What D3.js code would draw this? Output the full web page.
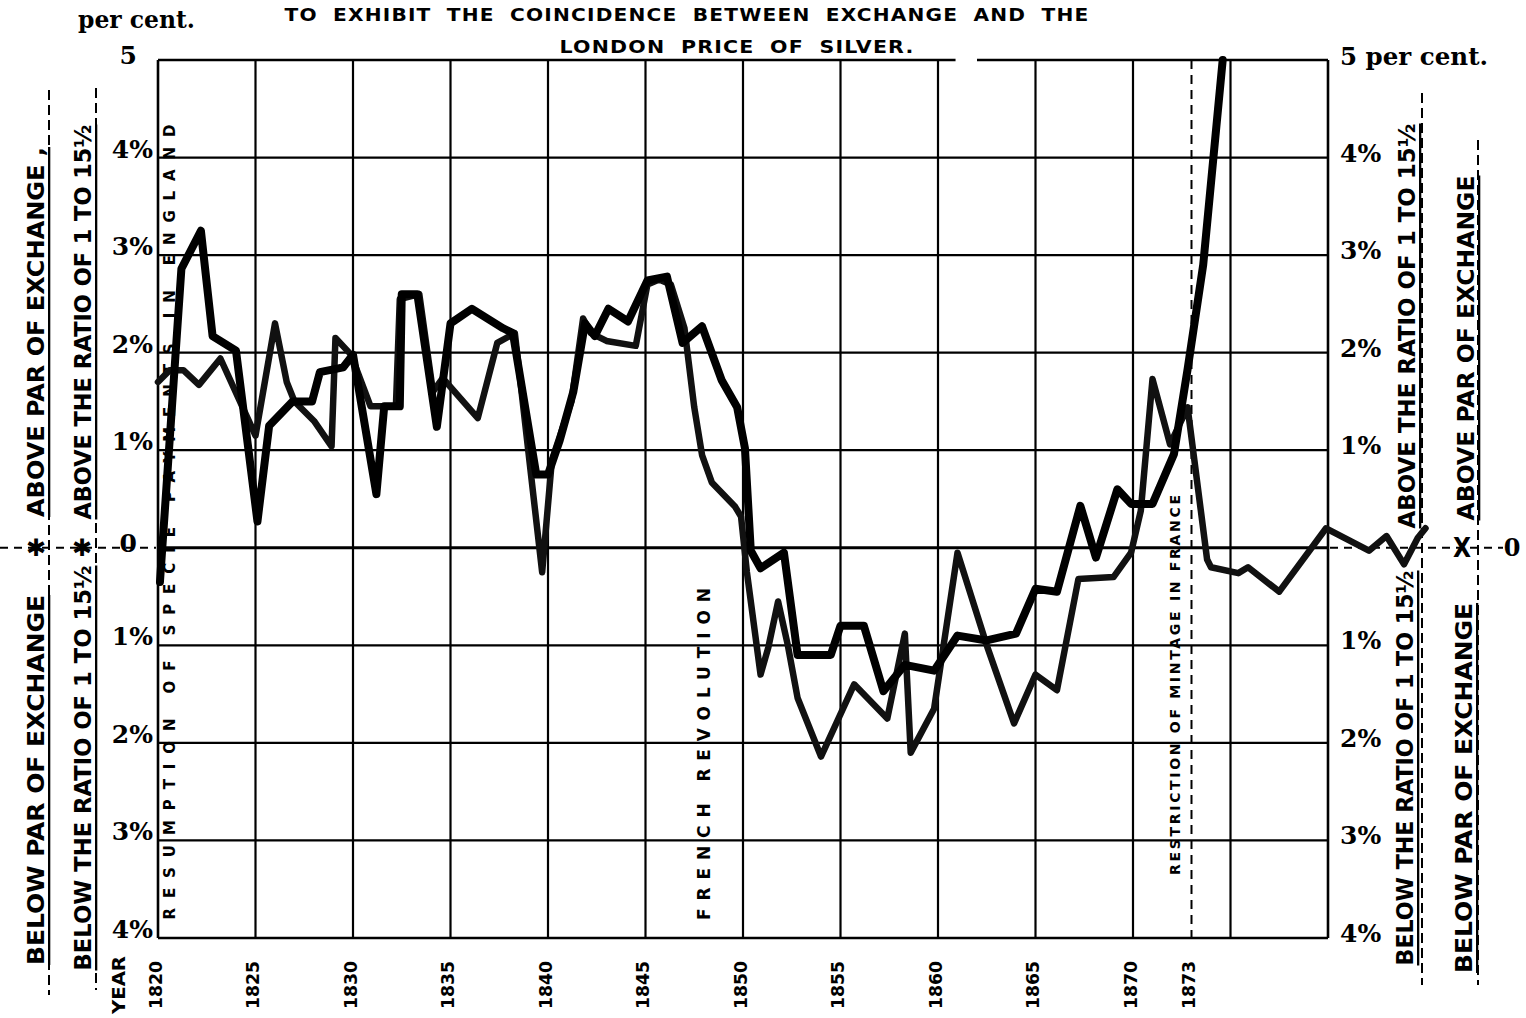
<!DOCTYPE html>
<html><head><meta charset="utf-8">
<script src="https://cdn.jsdelivr.net/npm/d3@7"></script>
<style>
html,body{margin:0;padding:0;background:#fff;}
svg{display:block;}
</style></head>
<body>
<svg id="chart" width="1526" height="1018"></svg>
<script>
// ---- data ----
const silverYears = [1820.1,1821.2,1822.2,1822.8,1824.0,1825.1,1825.7,1826.9,1827.9,1828.3,1829.5,1830.0,1831.2,1831.6,1832.4,1832.5,1833.3,1834.3,1835.0,1836.1,1837.7,1838.2,1839.4,1840.0,1840.6,1841.3,1841.9,1842.4,1843.1,1844.1,1845.1,1846.1,1846.9,1847.9,1848.9,1849.7,1850.1,1850.4,1850.9,1852.1,1852.8,1854.5,1855.0,1856.2,1857.2,1858.3,1859.8,1861.0,1862.5,1864.0,1865.0,1866.1,1867.3,1868.1,1869.2,1869.9,1871.0,1872.1,1872.8,1873.6,1874.6];
const silverValues = [-0.35,2.86,3.25,2.17,2.02,0.27,1.25,1.5,1.5,1.8,1.85,1.98,0.55,1.45,1.45,2.6,2.6,1.24,2.3,2.45,2.25,2.2,0.75,0.75,1.1,1.6,2.3,2.17,2.45,2.32,2.74,2.78,2.1,2.27,1.72,1.44,1.02,-0.03,-0.21,-0.05,-1.1,-1.1,-0.8,-0.8,-1.47,-1.2,-1.26,-0.9,-0.95,-0.88,-0.42,-0.45,0.43,-0.1,0.6,0.45,0.45,0.96,1.83,2.9,5.0];

const exchangeYears = [1820.0,1820.6,1821.3,1822.1,1823.2,1825.0,1826.0,1826.6,1827.0,1828.0,1828.9,1829.1,1829.9,1830.9,1832.2,1832.4,1833.4,1834.1,1834.6,1836.4,1837.4,1838.3,1839.7,1840.2,1841.2,1841.8,1842.2,1843.0,1844.5,1845.1,1845.7,1846.3,1847.0,1847.5,1847.9,1848.4,1849.6,1849.9,1850.2,1850.9,1851.3,1851.8,1852.3,1852.8,1854.0,1855.7,1857.4,1858.3,1858.6,1859.8,1861.0,1862.5,1863.9,1865.0,1866.1,1867.2,1869.0,1869.9,1870.4,1871.0,1871.9,1872.8,1873.8,1874.0,1875.4,1875.9,1877.5,1879.9,1882.1,1883.0,1883.9,1884.6,1885.0];
const exchangeValues = [1.7,1.82,1.82,1.67,1.94,1.15,2.3,1.7,1.5,1.3,1.04,2.15,1.98,1.45,1.45,2.55,2.6,1.6,1.74,1.33,2.1,2.2,-0.25,0.9,1.5,2.35,2.2,2.12,2.07,2.7,2.75,2.7,2.25,1.44,0.95,0.67,0.42,0.32,-0.25,-1.3,-1.02,-0.55,-1.0,-1.54,-2.14,-1.4,-1.75,-0.88,-2.1,-1.65,-0.05,-1.0,-1.8,-1.3,-1.46,-0.32,-0.3,-0.05,0.38,1.73,1.06,1.44,-0.12,-0.2,-0.26,-0.2,-0.45,0.2,-0.03,0.12,-0.17,0.1,0.2];

const gridYears = [1820,1825,1830,1835,1840,1845,1850,1855,1860,1865,1870,1875,1880];
const yearTickValues = [1820,1825,1830,1835,1840,1845,1850,1855,1860,1865,1870,1873];
const yearTickLabels = ["1820","1825","1830","1835","1840","1845","1850","1855","1860","1865","1870","1873"];
const pctValues = [5,4,3,2,1,0,-1,-2,-3,-4];
const leftTickLabels = ["5","4%","3%","2%","1%","0","1%","2%","3%","4%"];
const rightTickLabels = ["5 per cent.","4%","3%","2%","1%","","1%","2%","3%","4%"];
const eventYears = [1820.6, 1848.0, 1872.15];
const eventLabels = ["RESUMPTION OF SPECIE PAYMENTS IN ENGLAND","FRENCH REVOLUTION","RESTRICTION OF MINTAGE IN FRANCE"];
const markerYear = 1873;
const titleLines = ["TO EXHIBIT THE COINCIDENCE BETWEEN EXCHANGE AND THE","LONDON PRICE OF SILVER."];
const sideLabelsAbove = ["ABOVE PAR OF EXCHANGE ,","ABOVE THE RATIO OF 1 TO 15½"];
const sideLabelsBelow = ["BELOW PAR OF EXCHANGE","BELOW THE RATIO OF 1 TO 15½"];
const rightLabelsAbove = ["ABOVE THE RATIO OF 1 TO 15½","ABOVE PAR OF EXCHANGE"];
const rightLabelsBelow = ["BELOW THE RATIO OF 1 TO 15½","BELOW PAR OF EXCHANGE"];

// ---- drawing ----
const svg = d3.select("#chart");
const W = 1526, H = 1018;
svg.append("rect").attr("width", W).attr("height", H).attr("fill", "#fff");

const x = d3.scaleLinear().domain([1820, 1880]).range([158, 1328]);
const y = d3.scaleLinear().domain([-4, 5]).range([938, 60]);

const serif = "'DejaVu Serif', 'Liberation Serif', serif";
const sans = "'Liberation Sans Narrow', 'DejaVu Sans Condensed', 'Liberation Sans', sans-serif";
const wideSans = "'DejaVu Sans', 'Liberation Sans', sans-serif";

// title
svg.append("text").attr("x", 687).attr("y", 21).attr("text-anchor", "middle")
  .attr("font-family", wideSans).attr("font-weight", "bold").attr("font-size", 17)
  .attr("word-spacing", 6).attr("letter-spacing", 1)
  .attr("textLength", 805).attr("lengthAdjust", "spacingAndGlyphs").text(titleLines[0]);
svg.append("text").attr("x", 737).attr("y", 53).attr("text-anchor", "middle")
  .attr("font-family", wideSans).attr("font-weight", "bold").attr("font-size", 17)
  .attr("word-spacing", 6).attr("letter-spacing", 1)
  .attr("textLength", 355).attr("lengthAdjust", "spacingAndGlyphs").text(titleLines[1]);

svg.append("text").attr("x", 78).attr("y", 28).attr("font-family", serif).attr("font-weight", "bold")
  .attr("font-size", 25).attr("textLength", 117).attr("lengthAdjust", "spacingAndGlyphs").text("per cent.");

// event annotations (under the lines)
const evCfg = [{cy: 522, len: 795, fs: 15}, {cy: 754, len: 332, fs: 17}, {cy: 685, len: 380, fs: 14}];
eventLabels.forEach((t, i) => {
  const cx = x(eventYears[i]);
  svg.append("text").attr("transform", `translate(${cx},${evCfg[i].cy}) rotate(-90)`)
    .attr("text-anchor", "middle").attr("dominant-baseline", "central")
    .attr("font-family", wideSans).attr("font-weight", "bold").attr("font-size", evCfg[i].fs)
    .attr("textLength", evCfg[i].len).attr("lengthAdjust", "spacing").text(t);
});

// grid
const grid = svg.append("g").attr("stroke", "#000").attr("fill", "none");
gridYears.forEach(yr => {
  grid.append("line").attr("x1", x(yr)).attr("x2", x(yr)).attr("y1", y(5)).attr("y2", y(-4))
    .attr("stroke-width", (yr === 1820 || yr === 1880) ? 2.6 : 2.2);
});
pctValues.forEach(v => {
  if (v === 5) {
    grid.append("line").attr("x1", x(1820)).attr("x2", x(1860.9)).attr("y1", y(5)).attr("y2", y(5)).attr("stroke-width", 2.6);
    grid.append("line").attr("x1", x(1862.0)).attr("x2", x(1880)).attr("y1", y(5)).attr("y2", y(5)).attr("stroke-width", 2.6);
  } else {
    grid.append("line").attr("x1", x(1820)).attr("x2", x(1880)).attr("y1", y(v)).attr("y2", y(v))
      .attr("stroke-width", v === 0 ? 3 : (v === -4 ? 2.6 : 2.2));
  }
});
// 1873 dashed
grid.append("line").attr("x1", x(markerYear)).attr("x2", x(markerYear)).attr("y1", y(5)).attr("y2", y(-4))
  .attr("stroke-width", 2).attr("stroke-dasharray", "9,6");

// zero dashes outside
svg.append("line").attr("x1", 0).attr("x2", 156).attr("y1", y(0)).attr("y2", y(0))
  .attr("stroke", "#000").attr("stroke-width", 2).attr("stroke-dasharray", "8,6");
svg.append("line").attr("x1", 1330).attr("x2", 1503).attr("y1", y(0)).attr("y2", y(0))
  .attr("stroke", "#000").attr("stroke-width", 2).attr("stroke-dasharray", "8,6");

// side dashed rules
[[49, 90, 995], [96, 88, 990], [1422, 93, 985], [1478, 140, 985]].forEach(d => {
  svg.append("line").attr("x1", d[0]).attr("x2", d[0]).attr("y1", d[1]).attr("y2", d[2])
    .attr("stroke", "#000").attr("stroke-width", 2).attr("stroke-dasharray", "10,5");
});

// side labels
function sideText(t, cx, cy, len) {
  svg.append("text").attr("transform", `translate(${cx},${cy}) rotate(-90)`)
    .attr("text-anchor", "middle").attr("dominant-baseline", "central")
    .attr("font-family", sans).attr("font-weight", "bold").attr("font-size", 23)
    .attr("text-decoration", "underline")
    .attr("textLength", len).attr("lengthAdjust", "spacingAndGlyphs").text(t);
}
sideText(sideLabelsAbove[0], 36, 332, 370);
sideText(sideLabelsAbove[1], 83, 322, 395);
sideText(sideLabelsBelow[0], 36, 780, 370);
sideText(sideLabelsBelow[1], 83, 768, 405);
sideText(rightLabelsAbove[0], 1407, 326, 405);
sideText(rightLabelsAbove[1], 1466, 348, 345);
sideText(rightLabelsBelow[0], 1405, 768, 395);
sideText(rightLabelsBelow[1], 1464, 788, 370);

// markers on zero line
[[36, "✱"], [82, "✱"]].forEach(d => {
  svg.append("text").attr("x", d[0]).attr("y", y(0)).attr("text-anchor", "middle").attr("dominant-baseline", "central")
    .attr("font-family", "'DejaVu Sans', sans-serif").attr("font-weight", "bold").attr("font-size", 24).text(d[1]);
});
svg.append("text").attr("x", 1462).attr("y", y(0)).attr("text-anchor", "middle").attr("dominant-baseline", "central")
  .attr("font-family", sans).attr("font-weight", "bold").attr("font-size", 26).text("X");
svg.append("text").attr("x", 1512).attr("y", y(0) + 8).attr("text-anchor", "middle")
  .attr("font-family", serif).attr("font-weight", "bold").attr("font-size", 24).text("0");

// left tick labels
pctValues.forEach((v, i) => {
  const t = leftTickLabels[i];
  const plain = (t === "5" || t === "0");
  svg.append("text").attr("x", plain ? 137 : 153).attr("y", y(v) + (plain ? 4 : 0))
    .attr("text-anchor", "end").attr("font-family", serif).attr("font-weight", "bold")
    .attr("font-size", 25).text(t);
});
// right tick labels
pctValues.forEach((v, i) => {
  const t = rightTickLabels[i];
  if (!t) return;
  const s = svg.append("text").attr("x", 1340).attr("y", y(v) + (v === 5 ? 5 : 4))
    .attr("font-family", serif).attr("font-weight", "bold").attr("font-size", 25).text(t);
  if (v === 5) s.attr("textLength", 148).attr("lengthAdjust", "spacingAndGlyphs");
});

// year labels
yearTickValues.forEach((yr, i) => {
  svg.append("text").attr("transform", `translate(${x(yr) - 3},985) rotate(-90)`)
    .attr("text-anchor", "middle").attr("dominant-baseline", "central")
    .attr("font-family", sans).attr("font-weight", "bold").attr("font-size", 18)
    .attr("textLength", 48).attr("lengthAdjust", "spacingAndGlyphs").text(yearTickLabels[i]);
});
svg.append("text").attr("transform", `translate(118,985) rotate(-90)`)
  .attr("text-anchor", "middle").attr("dominant-baseline", "central")
  .attr("font-family", sans).attr("font-weight", "bold").attr("font-size", 18)
  .attr("textLength", 58).attr("lengthAdjust", "spacingAndGlyphs").text("YEAR");

// data lines
const line = d3.line().x(d => x(d[0])).y(d => y(d[1]));
const exchangeData = exchangeYears.map((yr, i) => [yr, exchangeValues[i]]);
const silverData = silverYears.map((yr, i) => [yr, silverValues[i]]);

svg.append("path").datum(exchangeData).attr("d", line).attr("fill", "none")
  .attr("stroke", "#111").attr("stroke-width", 6.5).attr("stroke-linejoin", "round").attr("stroke-linecap", "round");
svg.append("path").datum(silverData).attr("d", line).attr("fill", "none")
  .attr("stroke", "#000").attr("stroke-width", 8).attr("stroke-linejoin", "round").attr("stroke-linecap", "round");
</script>
</body></html>
